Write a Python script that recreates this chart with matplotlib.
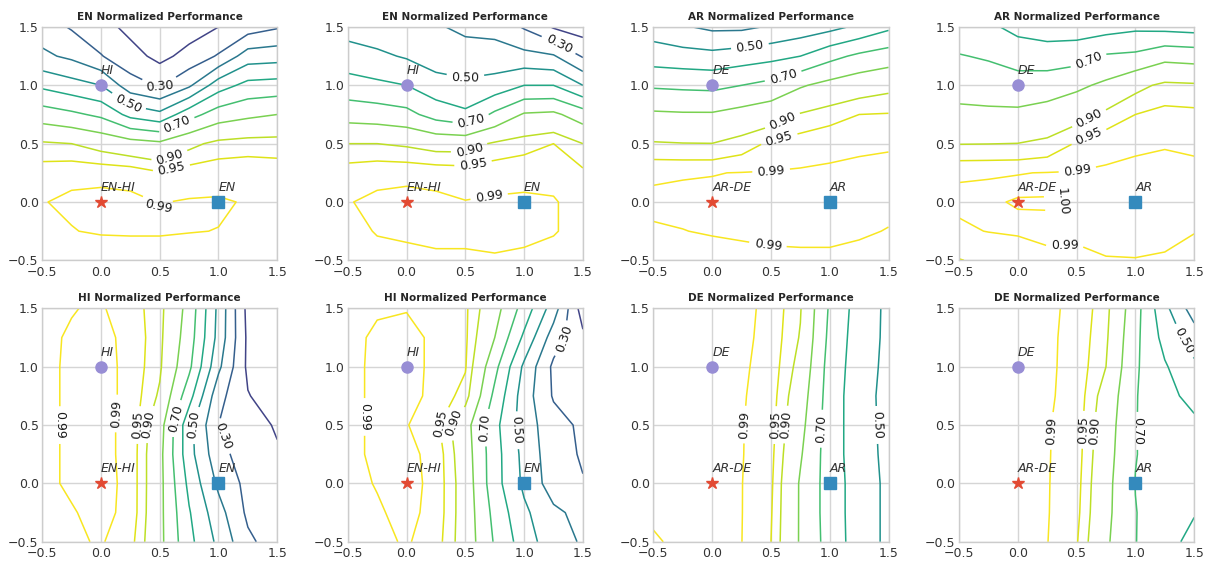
import numpy as np
import matplotlib
matplotlib.use("Agg")
import matplotlib.pyplot as plt

# grid coordinates of the sampled landscape
xs = [-0.5, -0.25, 0.0, 0.25, 0.5, 0.75, 1.0, 1.25, 1.5]
ys = [-0.5, -0.25, 0.0, 0.25, 0.5, 0.75, 1.0, 1.25, 1.5]

# normalized performance, rows written from y=1.5 (top) down to y=-0.5
en_a = [
    [0.35, 0.29, 0.24, 0.17, 0.12, 0.15, 0.2, 0.25, 0.29],
    [0.42, 0.38, 0.305, 0.24, 0.17, 0.235, 0.31, 0.45, 0.46],
    [0.58, 0.54, 0.5, 0.34, 0.29, 0.383, 0.555, 0.63, 0.64],
    [0.75, 0.72, 0.68, 0.57, 0.525, 0.66, 0.75, 0.78, 0.8],
    [0.91, 0.9, 0.87, 0.84, 0.82, 0.88, 0.92, 0.93, 0.93],
    [0.975, 0.984, 0.984, 0.98, 0.955, 0.975, 0.977, 0.975, 0.97],
    [0.989, 0.994, 0.996, 0.996, 0.989, 0.992, 0.993, 0.988, 0.978],
    [0.98, 0.989, 0.993, 0.994, 0.993, 0.991, 0.9895, 0.982, 0.975],
    [0.965, 0.968, 0.97, 0.97, 0.975, 0.975, 0.975, 0.97, 0.965],
]
en_b = [
    [0.46, 0.44, 0.43, 0.41, 0.38, 0.37, 0.29, 0.19, 0.15],
    [0.543, 0.52, 0.49, 0.45, 0.44, 0.44, 0.43, 0.41, 0.29],
    [0.64, 0.62, 0.6, 0.54, 0.52, 0.54, 0.6, 0.6, 0.5],
    [0.76, 0.75, 0.73, 0.66, 0.62, 0.72, 0.81, 0.82, 0.75],
    [0.9, 0.9, 0.89, 0.87, 0.87, 0.91, 0.93, 0.95, 0.9],
    [0.975, 0.984, 0.984, 0.98, 0.975, 0.98, 0.982, 0.982, 0.96],
    [0.989, 0.994, 0.997, 0.996, 0.991, 0.993, 0.994, 0.992, 0.98],
    [0.98, 0.992, 0.995, 0.996, 0.996, 0.996, 0.995, 0.992, 0.98],
    [0.975, 0.98, 0.982, 0.986, 0.986, 0.988, 0.986, 0.98, 0.975],
]
ar_a = [
    [0.45, 0.41, 0.38, 0.38, 0.41, 0.44, 0.47, 0.52, 0.58],
    [0.55, 0.539, 0.53, 0.55, 0.57, 0.6, 0.67, 0.72, 0.75],
    [0.687, 0.68, 0.675, 0.7, 0.73, 0.79, 0.83, 0.86, 0.88],
    [0.815, 0.81, 0.81, 0.835, 0.86, 0.905, 0.93, 0.95, 0.953],
    [0.906, 0.902, 0.901, 0.925, 0.96, 0.975, 0.982, 0.986, 0.988],
    [0.987, 0.988, 0.989, 0.991, 0.992, 0.993, 0.994, 0.995, 0.995],
    [0.994, 0.996, 0.997, 0.997, 0.997, 0.997, 0.997, 0.997, 0.996],
    [0.988, 0.9895, 0.992, 0.994, 0.995, 0.995, 0.995, 0.993, 0.989],
    [0.975, 0.975, 0.98, 0.982, 0.985, 0.986, 0.986, 0.983, 0.98],
]
ar_b = [
    [0.64, 0.62, 0.57, 0.55, 0.55, 0.56, 0.58, 0.57, 0.56],
    [0.705, 0.69, 0.66, 0.65, 0.66, 0.71, 0.72, 0.77, 0.76],
    [0.76, 0.75, 0.74, 0.75, 0.78, 0.82, 0.88, 0.915, 0.91],
    [0.823, 0.82, 0.82, 0.84, 0.87, 0.915, 0.95, 0.965, 0.962],
    [0.898, 0.899, 0.901, 0.915, 0.955, 0.982, 0.987, 0.989, 0.987],
    [0.987, 0.988, 0.989, 0.991, 0.992, 0.993, 0.994, 0.994, 0.994],
    [0.996, 0.997, 1.002, 1.002, 0.998, 0.999, 0.997, 0.997, 0.995],
    [0.985, 0.991, 0.994, 0.995, 0.995, 0.996, 0.995, 0.995, 0.991],
    [0.948, 0.96, 0.97, 0.985, 0.984, 0.989, 0.9895, 0.988, 0.98],
]
hi_a = [
    [0.985, 0.989, 0.993, 0.975, 0.921, 0.767, 0.475, 0.17, 0.1],
    [0.986, 0.992, 0.994, 0.986, 0.917, 0.75, 0.467, 0.18, 0.12],
    [0.987, 0.992, 0.995, 0.986, 0.911, 0.722, 0.422, 0.18, 0.13],
    [0.987, 0.992, 0.995, 0.986, 0.89, 0.64, 0.333, 0.205, 0.15],
    [0.987, 0.992, 0.994, 0.986, 0.844, 0.533, 0.3, 0.24, 0.19],
    [0.987, 0.992, 0.994, 0.986, 0.83, 0.537, 0.333, 0.25, 0.21],
    [0.987, 0.992, 0.995, 0.986, 0.83, 0.575, 0.38, 0.27, 0.23],
    [0.984, 0.989, 0.994, 0.986, 0.827, 0.608, 0.438, 0.28, 0.24],
    [0.975, 0.985, 0.993, 0.97, 0.827, 0.627, 0.477, 0.32, 0.25],
]
hi_b = [
    [0.975, 0.988, 0.989, 0.975, 0.96, 0.84, 0.66, 0.45, 0.15],
    [0.985, 0.993, 0.996, 0.986, 0.96, 0.8, 0.58, 0.35, 0.22],
    [0.986, 0.993, 0.996, 0.986, 0.955, 0.73, 0.48, 0.28, 0.24],
    [0.986, 0.993, 0.996, 0.985, 0.93, 0.675, 0.45, 0.29, 0.24],
    [0.986, 0.993, 0.992, 0.965, 0.84, 0.63, 0.45, 0.34, 0.28],
    [0.986, 0.993, 0.995, 0.984, 0.85, 0.64, 0.47, 0.34, 0.29],
    [0.985, 0.991, 0.996, 0.985, 0.86, 0.64, 0.48, 0.35, 0.305],
    [0.98, 0.988, 0.995, 0.984, 0.86, 0.67, 0.52, 0.42, 0.37],
    [0.975, 0.983, 0.993, 0.975, 0.86, 0.69, 0.55, 0.44, 0.39],
]
de_a = [
    [0.996, 0.997, 0.997, 0.995, 0.985, 0.905, 0.687, 0.556, 0.48],
    [0.996, 0.997, 0.997, 0.995, 0.983, 0.895, 0.675, 0.55, 0.48],
    [0.996, 0.997, 0.997, 0.994, 0.98, 0.875, 0.661, 0.547, 0.475],
    [0.996, 0.997, 0.997, 0.993, 0.975, 0.85, 0.655, 0.54, 0.47],
    [0.996, 0.997, 0.997, 0.992, 0.97, 0.83, 0.65, 0.545, 0.47],
    [0.996, 0.997, 0.997, 0.992, 0.965, 0.81, 0.65, 0.545, 0.475],
    [0.996, 0.997, 0.997, 0.991, 0.96, 0.79, 0.655, 0.55, 0.48],
    [0.993, 0.996, 0.997, 0.991, 0.955, 0.79, 0.655, 0.55, 0.48],
    [0.988, 0.994, 0.996, 0.9905, 0.95, 0.79, 0.66, 0.55, 0.48],
]
de_b = [
    [0.996, 0.997, 0.997, 0.994, 0.985, 0.921, 0.74, 0.527, 0.35],
    [0.996, 0.997, 0.997, 0.994, 0.983, 0.912, 0.725, 0.568, 0.45],
    [0.996, 0.997, 0.997, 0.994, 0.982, 0.9, 0.714, 0.61, 0.52],
    [0.996, 0.997, 0.997, 0.993, 0.982, 0.867, 0.706, 0.63, 0.57],
    [0.996, 0.997, 0.997, 0.992, 0.978, 0.85, 0.703, 0.655, 0.62],
    [0.996, 0.997, 0.997, 0.992, 0.975, 0.84, 0.703, 0.66, 0.63],
    [0.996, 0.997, 0.997, 0.992, 0.97, 0.83, 0.698, 0.66, 0.63],
    [0.996, 0.997, 0.997, 0.992, 0.965, 0.825, 0.703, 0.65, 0.605],
    [0.996, 0.997, 0.997, 0.991, 0.955, 0.815, 0.703, 0.63, 0.575],
]

plain_levels = [0.1, 0.2, 0.4, 0.6, 0.8]
label_levels = [0.3, 0.5, 0.7, 0.9, 0.95, 0.99, 1.0]

panels = [en_a, en_b, ar_a, ar_b, hi_a, hi_b, de_a, de_b]
titles = ["EN", "EN", "AR", "AR", "HI", "HI", "DE", "DE"]
point_names = [
    ["HI", "EN-HI", "EN"], ["HI", "EN-HI", "EN"],
    ["DE", "AR-DE", "AR"], ["DE", "AR-DE", "AR"],
    ["HI", "EN-HI", "EN"], ["HI", "EN-HI", "EN"],
    ["DE", "AR-DE", "AR"], ["DE", "AR-DE", "AR"],
]
point_x = [0.0, 0.0, 1.0]
point_y = [1.0, 0.0, 0.0]
point_marker = ["o", "*", "s"]
point_color = ["#988ED5", "#E24A33", "#348ABD"]
point_size = [8, 9, 8]

# where the inline contour labels sit in each panel
label_spots = [
    [(0.5, 0.99), (0.2, 0.8), (0.63, 0.7), (0.57, 0.42), (0.6, 0.28), (0.5, -0.03)],
    [(1.29, 1.34), (0.5, 1.04), (0.54, 0.71), (0.54, 0.43), (0.57, 0.3), (0.7, 0.06)],
    [(0.32, 1.34), (0.6, 1.09), (0.6, 0.69), (0.57, 0.54), (0.5, 0.28), (0.47, -0.39)],
    [(0.61, 1.19), (0.61, 0.71), (0.6, 0.57), (0.5, 0.3), (0.38, 0.0), (0.4, -0.36)],
    [(-0.35, 0.5), (0.12, 0.6), (0.32, 0.5), (0.43, 0.5), (0.66, 0.55), (0.78, 0.5), (1.0, 0.39)],
    [(-0.35, 0.57), (0.3, 0.5), (0.43, 0.5), (0.68, 0.48), (0.88, 0.45), (1.39, 1.21)],
    [(0.33, 0.5), (0.54, 0.5), (0.67, 0.5), (0.9, 0.47), (1.37, 0.5)],
    [(0.31, 0.45), (0.54, 0.46), (0.67, 0.45), (1.0, 0.45), (1.41, 1.22)],
]

plt.rcParams["font.family"] = "DejaVu Sans"
plt.rcParams["axes.edgecolor"] = "#cccccc"
plt.rcParams["axes.linewidth"] = 1.0
plt.rcParams["xtick.major.size"] = 0
plt.rcParams["ytick.major.size"] = 0
plt.rcParams["xtick.color"] = "#333333"
plt.rcParams["ytick.color"] = "#333333"

fig, axes = plt.subplots(2, 4, figsize=(12.05, 5.62), dpi=100)
fig.subplots_adjust(left=0.035, right=0.991, top=0.952, bottom=0.036,
                    wspace=0.30, hspace=0.206)

X, Y = np.meshgrid(xs, ys)

for k, ax in enumerate(axes.flat):
    Z = np.array(panels[k])[::-1]
    ax.grid(True, color="#d5d5d5", lw=1.0, zorder=0)
    ax.set_xlim(-0.5, 1.5)
    ax.set_ylim(-0.5, 1.5)
    ax.contour(X, Y, Z, levels=plain_levels, cmap="viridis", vmin=0, vmax=1,
               linewidths=1.1, zorder=2)
    cs = ax.contour(X, Y, Z, levels=label_levels, cmap="viridis", vmin=0, vmax=1,
                    linewidths=1.1, zorder=2)
    ax.clabel(cs, fmt="%.2f", fontsize=9, inline=True, colors="#1a1a1a",
              manual=label_spots[k])
    for i in range(3):
        ax.plot(point_x[i], point_y[i], marker=point_marker[i], ms=point_size[i],
                color=point_color[i], ls="none", zorder=4)
        ax.text(point_x[i], point_y[i] + 0.07, point_names[k][i], style="italic",
                fontsize=9, color="#333333", ha="left", va="bottom", zorder=5)
    ax.set_xticks([-0.5, 0.0, 0.5, 1.0, 1.5])
    ax.set_yticks([-0.5, 0.0, 0.5, 1.0, 1.5])
    ax.tick_params(labelsize=9, pad=2.5)
    ax.tick_params(axis="x", pad=4)
    ax.set_axisbelow(True)
    ax.set_title(titles[k] + " Normalized Performance", fontsize=7.5,
                 fontweight="bold", color="#262626", pad=5)

fig.savefig("out.png", dpi=100)
